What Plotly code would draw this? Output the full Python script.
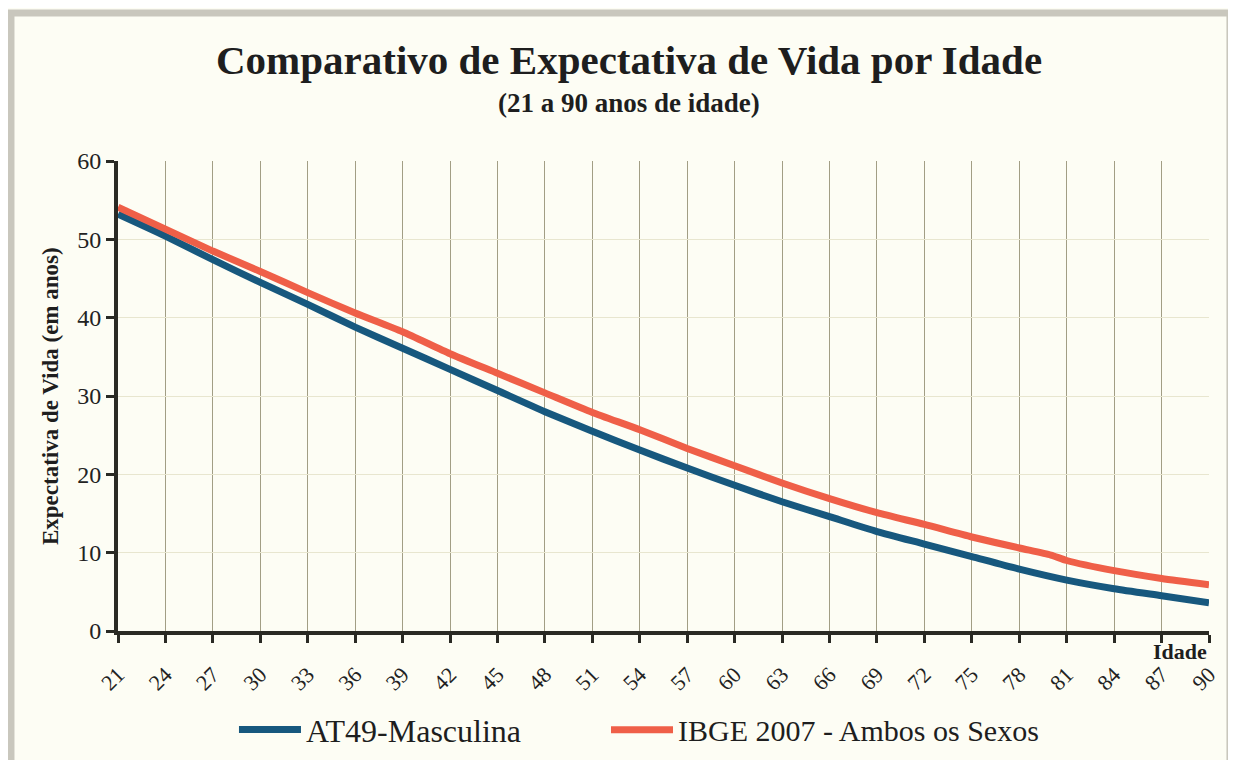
import plotly.graph_objects as go

# Data
ages_at49 = [21, 24, 27, 30, 33, 36, 39, 42, 45, 48, 51, 54, 57, 60, 63, 66, 69, 72, 75, 78, 81, 84, 87, 90]
exp_at49 = [53.2, 50.4, 47.4, 44.5, 41.7, 38.8, 36.1, 33.4, 30.7, 28.0, 25.5, 23.1, 20.8, 18.6, 16.5, 14.6, 12.7, 11.1, 9.5, 7.9, 6.5, 5.4, 4.5, 3.6]

ages_ibge = [21, 24, 27, 30, 33, 36, 39, 42, 45, 48, 51, 54, 57, 60, 63, 66, 69, 72, 75, 78, 80, 81, 84, 87, 90]
exp_ibge = [54.1, 51.3, 48.5, 45.9, 43.2, 40.6, 38.2, 35.4, 32.9, 30.4, 27.9, 25.7, 23.3, 21.1, 18.9, 16.9, 15.1, 13.6, 12.0, 10.6, 9.7, 9.0, 7.7, 6.7, 5.9]

x_ticks = list(range(21, 91, 3))
y_ticks = [0, 10, 20, 30, 40, 50, 60]

name_at49 = "AT49-Masculina"
name_ibge = "IBGE 2007 - Ambos os Sexos"

title_text = "Comparativo de Expectativa de Vida por Idade"
subtitle_text = "(21 a 90 anos de idade)"
y_title = "Expectativa de Vida (em anos)"
x_label = "Idade"

SERIF = "Liberation Serif, Times New Roman, serif"
CREAM = "#fdfdf4"
DARK = "#1e1e1e"

fig = go.Figure()
fig.add_trace(go.Scatter(x=ages_at49, y=exp_at49, mode="lines", name=name_at49, legend="legend",
                         line=dict(color="#17587e", width=7, shape="spline", smoothing=0.6)))
fig.add_trace(go.Scatter(x=ages_ibge, y=exp_ibge, mode="lines", name=name_ibge, legend="legend2",
                         line=dict(color="#ef5f48", width=7, shape="spline", smoothing=0.6)))

legend_common = dict(orientation="h", y=-0.21, yanchor="middle", xanchor="left",
                     bgcolor="rgba(0,0,0,0)", itemwidth=62)

fig.update_layout(
    width=1228, height=752,
    margin=dict(l=110, r=27, t=153, b=129, autoexpand=False),
    paper_bgcolor=CREAM, plot_bgcolor=CREAM,
    font=dict(family=SERIF, color="#222222"),
    showlegend=True,
    legend=dict(x=0.1063, font=dict(family=SERIF, size=32, color=DARK), **legend_common),
    legend2=dict(x=0.4473, font=dict(family=SERIF, size=30, color=DARK), **legend_common),
)

fig.update_xaxes(
    range=[21, 90], tickvals=x_ticks, ticktext=[str(v) for v in x_ticks],
    tickangle=-45, tickfont=dict(family=SERIF, size=22, color="#222222"),
    ticklabelstandoff=10, automargin=False,
    showgrid=True, gridcolor="#a29e84", gridwidth=1,
    showline=True, linecolor="#2a2a24", linewidth=4,
    ticks="outside", ticklen=8, tickwidth=3, tickcolor="#2a2a24",
    zeroline=False,
)
fig.update_yaxes(
    range=[0, 60], tickvals=y_ticks, automargin=False,
    tickfont=dict(family=SERIF, size=24, color="#222222"),
    showgrid=True, gridcolor="#e8e6cf", gridwidth=1,
    showline=True, linecolor="#2a2a24", linewidth=4,
    ticks="outside", ticklen=8, tickwidth=3, tickcolor="#2a2a24",
    zeroline=False,
)

# Outer gray frame
fig.add_shape(type="rect", xref="paper", yref="paper",
              x0=-0.0981, x1=1.0192, y0=-0.40, y1=1.3149,
              line=dict(color="#c9c7bd", width=7), fillcolor="rgba(0,0,0,0)", layer="below")

# Title and subtitle
fig.add_annotation(text="<b>" + title_text + "</b>", x=0.4684, xref="paper", y=1.2149, yref="paper",
                   xanchor="center", yanchor="middle", showarrow=False,
                   font=dict(family=SERIF, size=41, color=DARK))
fig.add_annotation(text="<b>" + subtitle_text + "</b>", x=0.4684, xref="paper", y=1.1234, yref="paper",
                   xanchor="center", yanchor="middle", showarrow=False,
                   font=dict(family=SERIF, size=27, color=DARK))

# Y axis title
fig.add_annotation(text="<b>" + y_title + "</b>", x=-0.0623, xref="paper", y=0.5, yref="paper",
                   xanchor="center", yanchor="middle", textangle=-90, showarrow=False,
                   font=dict(family=SERIF, size=23, color=DARK))

# "Idade" axis label at right end
fig.add_annotation(text="<b>" + x_label + "</b>", x=90, xref="x", y=-0.012, yref="paper",
                   xanchor="right", yanchor="top", showarrow=False,
                   font=dict(family=SERIF, size=22, color=DARK))

fig.write_html("out.html")
